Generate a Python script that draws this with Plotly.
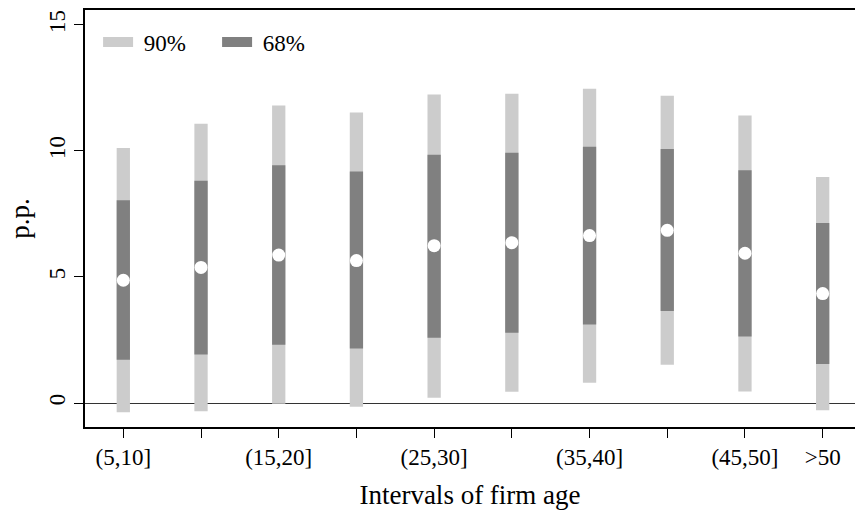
import plotly.graph_objects as go

# Firm-age buckets (positions 1..10 on the x axis)
positions = [1, 2, 3, 4, 5, 6, 7, 8, 9, 10]
tick_positions = [1, 3, 5, 7, 9, 10]
tick_labels = ["(5,10]", "(15,20]", "(25,30]", "(35,40]", "(45,50]", ">50"]

# Point estimates (p.p.)
estimate = [4.87, 5.38, 5.87, 5.65, 6.24, 6.36, 6.64, 6.85, 5.94, 4.34]

# 90% confidence band
ci90_low = [-0.37, -0.33, -0.03, -0.15, 0.21, 0.45, 0.80, 1.52, 0.46, -0.29]
ci90_high = [10.12, 11.08, 11.80, 11.52, 12.24, 12.27, 12.47, 12.19, 11.40, 8.97]

# 68% confidence band
ci68_low = [1.72, 1.92, 2.31, 2.16, 2.59, 2.79, 3.11, 3.65, 2.64, 1.55]
ci68_high = [8.04, 8.82, 9.43, 9.18, 9.85, 9.93, 10.17, 10.08, 9.23, 7.14]

LIGHT = "#cccccc"
DARK = "#808080"
FONT = "Liberation Serif"
BAR_W = 0.171

fig = go.Figure()

fig.add_trace(go.Bar(
    x=positions,
    y=[h - l for h, l in zip(ci90_high, ci90_low)],
    base=ci90_low,
    width=BAR_W,
    marker=dict(color=LIGHT, line=dict(width=0)),
    showlegend=False,
    hoverinfo="skip",
))
fig.add_trace(go.Bar(
    x=positions,
    y=[h - l for h, l in zip(ci68_high, ci68_low)],
    base=ci68_low,
    width=BAR_W,
    marker=dict(color=DARK, line=dict(width=0)),
    showlegend=False,
    hoverinfo="skip",
))
fig.add_trace(go.Scatter(
    x=positions,
    y=estimate,
    mode="markers",
    marker=dict(color="white", size=13, line=dict(width=0)),
    showlegend=False,
))

# Legend entries
fig.add_trace(go.Scatter(x=[None], y=[None], mode="lines", name="\u00a090%",
                         line=dict(color=LIGHT, width=13)))
fig.add_trace(go.Scatter(x=[None], y=[None], mode="lines", name="\u00a068%",
                         line=dict(color=DARK, width=13)))

fig.update_layout(
    width=855,
    height=510,
    margin=dict(l=85, r=0, t=10, b=83),
    plot_bgcolor="white",
    paper_bgcolor="white",
    barmode="overlay",
    font=dict(family=FONT, size=23, color="black"),
    legend=dict(
        orientation="h",
        x=0.017, y=0.975,
        xanchor="left", yanchor="top",
        bgcolor="rgba(0,0,0,0)",
        font=dict(family=FONT, size=23),
        entrywidth=74,
    ),
)

fig.update_xaxes(
    range=[0.507, 10.416],
    tickvals=tick_positions,
    ticktext=tick_labels,
    tickmode="array",
    ticks="outside",
    ticklen=9,
    tickwidth=1.3,
    tickcolor="black",
    showline=True,
    linecolor="black",
    linewidth=1.5,
    mirror=True,
    showgrid=False,
    zeroline=False,
    title=dict(text="Intervals of firm age", font=dict(family=FONT, size=27), standoff=16),
)
# unlabeled buckets still get a tick mark
fig.update_xaxes(minor=dict(tickvals=[2, 4, 6, 8], ticks="outside", ticklen=9,
                            tickwidth=1.3, tickcolor="black"))

fig.update_yaxes(
    range=[-0.952, 15.59],
    tickvals=[0, 5, 10, 15],
    ticks="outside",
    ticklen=9,
    tickwidth=1.3,
    tickcolor="black",
    tickangle=-90,
    showline=True,
    linecolor="black",
    linewidth=1.5,
    showgrid=False,
    zeroline=True,
    zerolinecolor="#333333",
    zerolinewidth=1.2,
    title=dict(text="p.p.", font=dict(family=FONT, size=27), standoff=8),
)

fig.write_html("out.html")
